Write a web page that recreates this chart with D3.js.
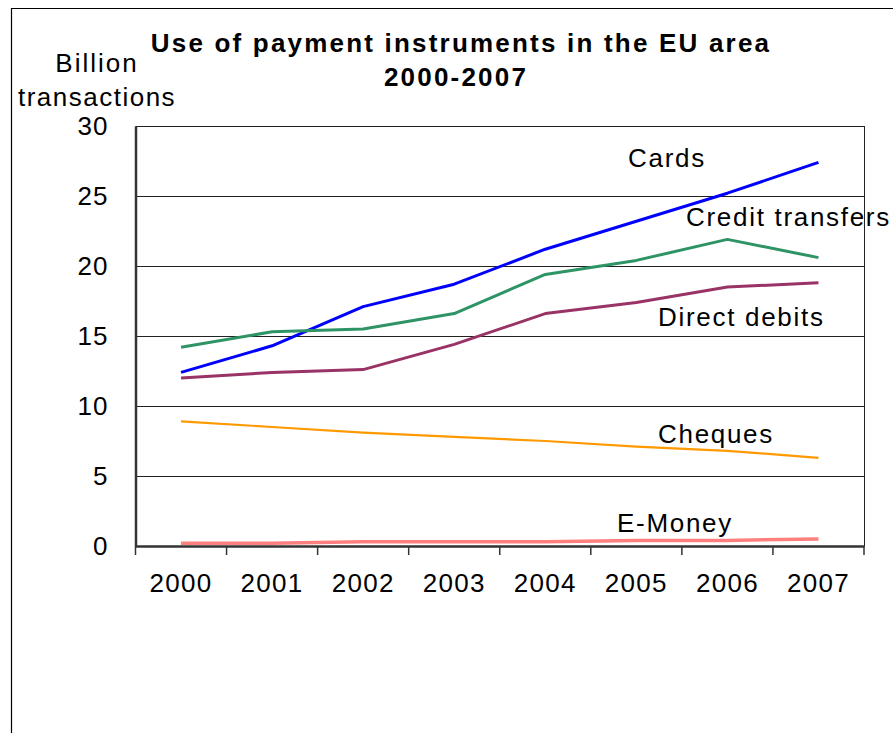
<!DOCTYPE html>
<html>
<head>
<meta charset="utf-8">
<script src="https://cdn.jsdelivr.net/npm/d3@7"></script>
<style>
  html, body { margin: 0; padding: 0; background: #fff; }
  svg { display: block; font-family: "Liberation Sans", Arial, sans-serif; }
</style>
</head>
<body>
<svg id="chart" width="893" height="733"></svg>
<script>
// Annual volumes of payment instruments, billions of transactions
const years = ["2000", "2001", "2002", "2003", "2004", "2005", "2006", "2007"];
const cards           = [12.4, 14.3, 17.1, 18.7, 21.2, 23.2, 25.2, 27.4];
const creditTransfers = [14.2, 15.3, 15.5, 16.6, 19.4, 20.4, 21.9, 20.6];
const directDebits    = [12.0, 12.4, 12.6, 14.4, 16.6, 17.4, 18.5, 18.8];
const cheques         = [8.9, 8.5, 8.1, 7.8, 7.5, 7.1, 6.8, 6.3];
const eMoney          = [0.2, 0.2, 0.3, 0.3, 0.3, 0.4, 0.4, 0.5];
const yTicks = [0, 5, 10, 15, 20, 25, 30];

const series = [
  { name: "Cards",            values: cards,           color: "#0000ff", width: 3,   lx: 628, ly: 167 },
  { name: "Credit transfers", values: creditTransfers, color: "#2e9466", width: 3,   lx: 686, ly: 226 },
  { name: "Direct debits",    values: directDebits,    color: "#993366", width: 3,   lx: 658, ly: 326 },
  { name: "Cheques",          values: cheques,         color: "#ff9900", width: 2.2, lx: 658, ly: 443 },
  { name: "E-Money",          values: eMoney,          color: "#ff7f7f", width: 3.5, lx: 617, ly: 532 }
];

const FONT = 26;
const svg = d3.select("#chart");
const plot = { left: 135.5, right: 864, top: 126, bottom: 546 };

// outer frame (left and top edges)
svg.append("path")
  .attr("d", "M11.5,733 L11.5,8.5 L893,8.5")
  .attr("fill", "none").attr("stroke", "#000").attr("stroke-width", 1.2);

const x = d3.scaleBand().domain(years).range([plot.left, plot.right]);
const y = d3.scaleLinear().domain([0, 30]).range([plot.bottom, plot.top]);

// gridlines
svg.append("g").selectAll("line")
  .data(yTicks.filter(t => t > 0))
  .join("line")
  .attr("x1", plot.left).attr("x2", plot.right)
  .attr("y1", d => Math.round(y(d)) + 0.5).attr("y2", d => Math.round(y(d)) + 0.5)
  .attr("stroke", "#222").attr("stroke-width", 1);

// series lines
const line = d3.line()
  .x((d, i) => x(years[i]) + x.bandwidth() / 2)
  .y(d => y(d));

svg.append("g").selectAll("path")
  .data(series)
  .join("path")
  .attr("d", d => line(d.values))
  .attr("fill", "none")
  .attr("stroke", d => d.color)
  .attr("stroke-width", d => d.width)
  .attr("stroke-linejoin", "round");

// series labels
svg.append("g").selectAll("text")
  .data(series)
  .join("text")
  .attr("x", d => d.lx).attr("y", d => d.ly)
  .attr("font-size", FONT)
  .attr("letter-spacing", 1.7)
  .attr("fill", "#000")
  .text(d => d.name);

// right border of plot area, drawn above the labels
svg.append("line")
  .attr("x1", plot.right + 0.5).attr("x2", plot.right + 0.5)
  .attr("y1", plot.top).attr("y2", plot.bottom)
  .attr("stroke", "#222").attr("stroke-width", 1);

// y axis
const yAxis = svg.append("g")
  .attr("transform", `translate(${plot.left},0)`)
  .call(d3.axisLeft(y).tickValues(yTicks).tickSize(0).tickPadding(27));
yAxis.select(".domain").attr("stroke", "#333").attr("stroke-width", 2.5);
yAxis.selectAll("text").attr("font-size", FONT).attr("fill", "#000")
  .attr("letter-spacing", 1)
  .attr("font-family", "Liberation Sans, Arial, sans-serif");

// x axis
const xAxis = svg.append("g")
  .attr("transform", `translate(0,${plot.bottom})`)
  .call(d3.axisBottom(x).tickSize(0));
xAxis.select(".domain").attr("stroke", "#333").attr("stroke-width", 2.5);
xAxis.selectAll("text").attr("font-size", FONT).attr("fill", "#000")
  .attr("y", 46).attr("dy", 0).attr("letter-spacing", 1.3)
  .attr("font-family", "Liberation Sans, Arial, sans-serif");
// category boundary ticks
xAxis.append("g").selectAll("line")
  .data(years.concat(["end"]))
  .join("line")
  .attr("x1", (d, i) => plot.left + i * x.bandwidth())
  .attr("x2", (d, i) => plot.left + i * x.bandwidth())
  .attr("y1", 0).attr("y2", 9)
  .attr("stroke", "#333").attr("stroke-width", 1.5);

// y axis title
svg.append("text")
  .attr("x", 97).attr("y", 72)
  .attr("text-anchor", "middle")
  .attr("font-size", FONT).attr("letter-spacing", 2)
  .text("Billion");
svg.append("text")
  .attr("x", 97).attr("y", 106)
  .attr("text-anchor", "middle")
  .attr("font-size", FONT).attr("letter-spacing", 1.5)
  .text("transactions");

// chart title
const title = svg.append("text")
  .attr("text-anchor", "middle")
  .attr("font-size", FONT).attr("font-weight", "bold").attr("letter-spacing", 2.2);
title.append("tspan").attr("x", 461).attr("y", 52).text("Use of payment instruments in the EU area");
title.append("tspan").attr("x", 456).attr("y", 86).text("2000-2007");
</script>
</body>
</html>
